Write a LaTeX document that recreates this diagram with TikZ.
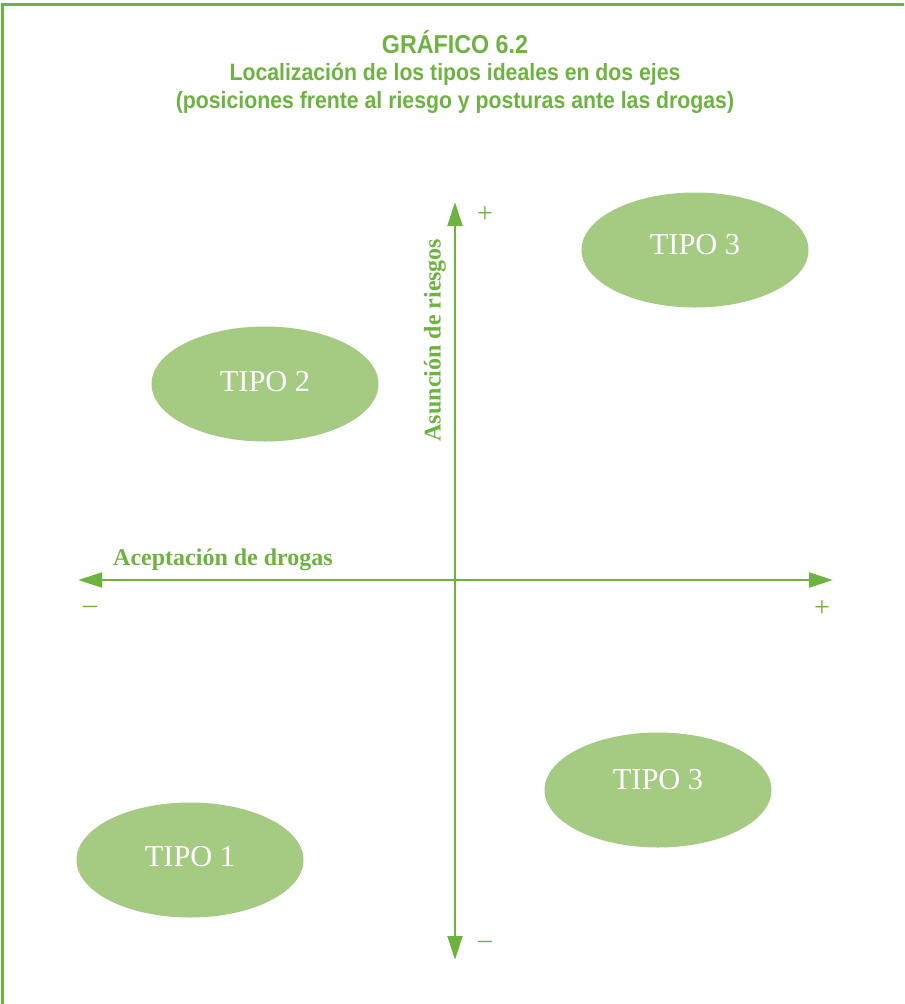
\documentclass[tikz,border=0pt]{standalone}
\usepackage{fontspec}
\usepackage{tikz}
\usetikzlibrary{shapes.geometric,arrows.meta}
\setmainfont{Liberation Serif}
\newfontfamily\titlefont[FakeStretch=0.9]{Liberation Sans}
\definecolor{grafgreen}{RGB}{109,179,63}
\definecolor{tipofill}{RGB}{165,202,130}
\newcommand{\TipoW}{227}
\newcommand{\TipoH}{115}

\begin{document}
\begin{tikzpicture}[x=0.75pt,y=-0.75pt,
  tipo/.style={ellipse, fill=tipofill, minimum width=\TipoW*0.75pt, minimum height=\TipoH*0.75pt},
  tipotext/.style={text=white, font=\fontsize{22.8}{26}\selectfont},
  axis/.style={grafgreen, line width=2.2pt, -{Triangle[length=18pt,width=11pt]}},
  axlabel/.style={text=grafgreen, font=\fontsize{18}{21}\selectfont\bfseries},
  sign/.style={text=grafgreen, font=\fontsize{21}{24}\selectfont}]

\useasboundingbox (0,0) rectangle (904,1004);

% frame
\draw [grafgreen, line width=2.4pt] (2.5,1004) -- (2.5,4.5) -- (904,4.5);

% title
\node (title) at (455,72) [text=grafgreen, align=center,
  font=\titlefont\fontsize{17.7}{20.6}\selectfont\bfseries]
  {{\fontsize{19.4}{20.6}\selectfont GRÁFICO 6.2}\\Localización de los tipos ideales en dos ejes\\(posiciones frente al riesgo y posturas ante las drogas)};

% axes
\coordinate (o) at (455,580);
\coordinate (xmin) at (78,580);
\coordinate (xmax) at (833,580);
\coordinate (ymax) at (455,202);
\coordinate (ymin) at (455,960);
\draw [axis] (o) -- (xmin);
\draw [axis] (o) -- (xmax);
\draw [axis] (o) -- (ymax);
\draw [axis] (o) -- (ymin);

\node (xlab) at (223,560) [axlabel] {Aceptación de drogas};
\node (ylab) at (435,340) [axlabel, rotate=90] {Asunción de riesgos};

\node (xminus) at (90,610) [sign] {–};
\node (xplus) at (822,609) [sign] {+};
\node (yplus) at (485,215) [sign] {+};
\node (yminus) at (485,945) [sign] {–};

% tipos
\node (t3a) at (695,250) [tipo] {};
\node (t3atxt) at (695,245) [tipotext] {TIPO 3};
\node (t2) at (265,384) [tipo] {};
\node (t2txt) at (265,382) [tipotext] {TIPO 2};
\node (t3b) at (658,790) [tipo] {};
\node (t3btxt) at (658,780) [tipotext] {TIPO 3};
\node (t1) at (190,860) [tipo] {};
\node (t1txt) at (190,857) [tipotext] {TIPO 1};

\end{tikzpicture}
\end{document}
